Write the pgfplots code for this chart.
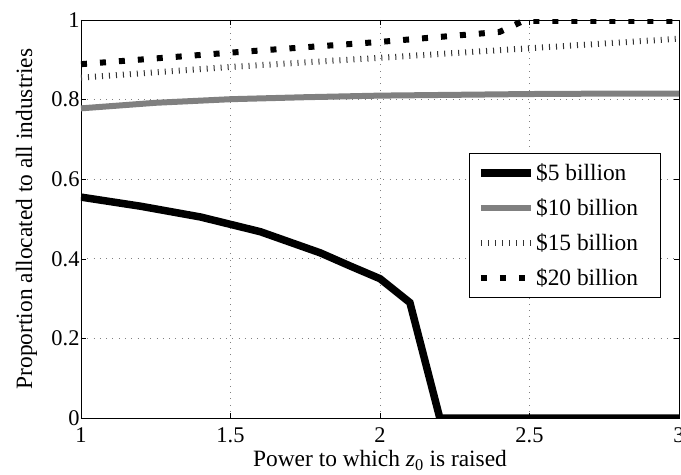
\documentclass[border=0pt]{standalone}
\usepackage{pgfplots}
\pgfplotsset{compat=1.18}
\usepackage{fontspec}
\setmainfont{Liberation Serif}
\begin{document}
\begin{tikzpicture}
\path[use as bounding box] (-81bp,-57bp) rectangle (600bp,418bp);
\begin{axis}[
  scale only axis, width=598bp, height=398bp,
  xmin=1, xmax=3, ymin=0, ymax=1,
  xtick={1,1.5,2,2.5,3}, ytick={0,0.2,0.4,0.6,0.8,1},
  /pgf/number format/assume math mode=true,
  tick label style={font=\fontsize{22.5}{26}\selectfont},
  xticklabel style={yshift=-6bp},
  yticklabel style={xshift=2bp},
  xlabel={Power to which \textit{z}\textsubscript{0} is raised},
  ylabel={Proportion allocated to all industries},
  label style={font=\fontsize{23.5}{26}\selectfont},
  xlabel style={at={(axis description cs:0.5,-0.1231)}, anchor=base},
  ylabel style={at={(axis description cs:-0.0819,0.5)}, anchor=base},
  grid=major,
  grid style={gray, line width=0.7bp, dash pattern=on 0.8bp off 5.5bp},
  tick align=inside, major tick length=5bp,
  axis line style={line width=0.8pt},
  every tick/.style={black, line width=0.5pt},
  legend style={at={(0.97,0.666)}, anchor=north east, draw=black, line width=0.8pt,
    font=\fontsize{23.5}{26}\selectfont, row sep=13.5bp, inner xsep=8bp, inner ysep=9bp,
    nodes={inner sep=1.5bp}},
  legend cell align=left,
  legend image code/.code={\draw[#1] (0bp,0bp) -- (50bp,0bp);},
]
\addplot[black, line width=7.5bp] coordinates {
(1,0.555) (1.2,0.532) (1.4,0.505) (1.6,0.468) (1.8,0.415) (1.9,0.382) (2.0,0.35) (2.1,0.29) (2.2,0) (3,0)};
\addlegendentry{\$5 billion\rule{13bp}{0pt}}
\addplot[gray, line width=6bp] coordinates {
(1,0.778) (1.25,0.792) (1.5,0.801) (1.75,0.806) (2,0.810) (2.25,0.812) (2.5,0.814) (2.75,0.815) (3,0.815)};
\addlegendentry{\$10 billion\rule{13bp}{0pt}}
\addplot[black!80, line width=6bp, dash pattern=on 1bp off 6bp] coordinates {
(1,0.855) (1.5,0.882) (2,0.905) (2.5,0.929) (3,0.953)};
\addlegendentry{\$15 billion\rule{13bp}{0pt}}
\addplot[black, line width=6bp, dash pattern=on 6bp off 13bp] coordinates {
(1,0.889) (1.5,0.918) (2,0.945) (2.4,0.970) (2.48,0.998) (3,0.998)};
\addlegendentry{\$20 billion\rule{13bp}{0pt}}
\end{axis}
\end{tikzpicture}
\end{document}
